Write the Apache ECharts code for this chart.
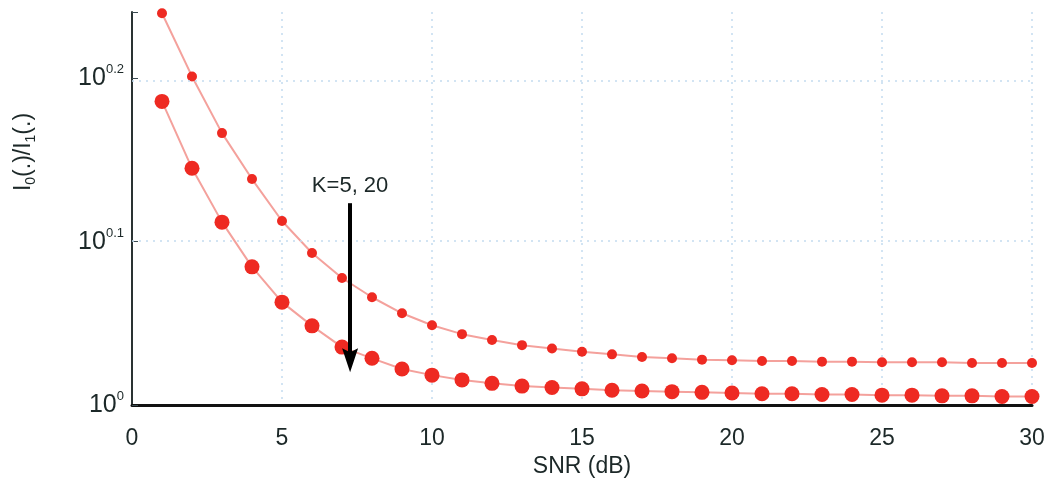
<!DOCTYPE html>
<html>
<head>
<meta charset="utf-8">
<script src="https://cdn.jsdelivr.net/npm/echarts@6/dist/echarts.min.js"></script>
<style>
  html, body { margin: 0; padding: 0; background: #ffffff; }
  #chart { width: 1057px; height: 494px; }
</style>
</head>
<body>
<div id="chart"></div>
<script>
// SNR points (dB)
const snr = [1, 2, 3, 4, 5, 6, 7, 8, 9, 10, 11, 12, 13, 14, 15,
             16, 17, 18, 19, 20, 21, 22, 23, 24, 25, 26, 27, 28, 29, 30];

// I0(.)/I1(.) for K = 5 (small markers)
const ratioK5 = [1.737, 1.589, 1.467, 1.375, 1.296, 1.239, 1.196, 1.164, 1.138, 1.119,
                 1.105, 1.096, 1.088, 1.083, 1.078, 1.074, 1.070, 1.068, 1.066, 1.065,
                 1.064, 1.064, 1.063, 1.063, 1.062, 1.062, 1.062, 1.061, 1.061, 1.061];

// I0(.)/I1(.) for K = 20 (large markers)
const ratioK20 = [1.534, 1.396, 1.294, 1.215, 1.156, 1.118, 1.085, 1.068, 1.052, 1.043,
                  1.036, 1.031, 1.027, 1.025, 1.023, 1.021, 1.020, 1.019, 1.018, 1.017,
                  1.016, 1.016, 1.015, 1.015, 1.014, 1.014, 1.013, 1.013, 1.012, 1.012];

// y tick labels: exponents of 10
const yTickExponents = ['0', '0.1', '0.2'];
// levels of the dotted horizontal grid lines
const yGridLevels = [1.2589, 1.5849];
// y axis range
const yMin = 1;
const yMax = 1.74;

// annotation arrow (x in dB, y from/to in ratio units; arrowhead centred on the end)
const arrowX = 7.27;
const arrowFrom = 1.329;
const arrowTo = 1.065;
const arrowText = 'K=5, 20';

const FONT = '"Liberation Sans", Arial, Helvetica, sans-serif';
const TEXT_COLOR = '#1c2828';
const GRID_COLOR = '#c4dcef';
const MARK_COLOR = '#ee2a22';
const LINE_COLOR = '#f4a19c';

const chart = echarts.init(document.getElementById('chart'), null, { renderer: 'canvas' });

function yLabel(v) {
  const e = Math.log10(v);
  const k = Math.round(e * 10);
  if (Math.abs(e - k / 10) > 1e-4) return '';
  const exp = yTickExponents[k];
  return exp === undefined ? '' : '{b|10}{s|' + exp + '}';
}

const option = {
  backgroundColor: '#ffffff',
  animation: false,
  grid: { left: 132, right: 25, top: 12, bottom: 89 },
  xAxis: {
    type: 'value',
    min: 0, max: 30, interval: 5,
    name: 'SNR (dB)',
    nameLocation: 'middle',
    nameGap: 50,
    nameTextStyle: { fontFamily: FONT, fontSize: 23, color: TEXT_COLOR },
    axisLine: { show: true, onZero: false, lineStyle: { color: '#111', width: 3 } },
    axisTick: { show: false },
    axisLabel: { fontFamily: FONT, fontSize: 23, color: TEXT_COLOR, margin: 22 },
    splitLine: { show: true, lineStyle: { color: GRID_COLOR, type: [2, 5], width: 1.5 } }
  },
  yAxis: {
    type: 'log',
    logBase: 10,
    min: yMin, max: yMax,
    interval: 0.1,
    axisLine: { show: true, lineStyle: { color: '#2a3333', width: 2 } },
    axisTick: { show: true, inside: true, length: 6, lineStyle: { color: '#3a4a50', width: 1 } },
    axisLabel: {
      margin: 8,
      formatter: yLabel,
      rich: {
        b: { fontFamily: FONT, fontSize: 25, lineHeight: 30, color: TEXT_COLOR },
        s: { fontFamily: FONT, fontSize: 13, lineHeight: 12, verticalAlign: 'top', color: TEXT_COLOR }
      }
    },
    splitLine: { show: false }
  },
  graphic: [{
    type: 'text',
    x: 24, y: 152,
    rotation: Math.PI / 2,
    style: {
      text: '{m|I}{s|0}{m|(.)/I}{s|1}{m|(.)}',
      align: 'center',
      verticalAlign: 'middle',
      rich: {
        m: { fontFamily: FONT, fontSize: 23, lineHeight: 28, fill: TEXT_COLOR },
        s: { fontFamily: FONT, fontSize: 14, lineHeight: 14, verticalAlign: 'bottom', fill: TEXT_COLOR }
      }
    }
  }],
  series: [
    {
      name: 'K=5',
      type: 'line',
      data: snr.map((x, i) => [x, ratioK5[i]]),
      symbol: 'circle',
      symbolSize: 10,
      itemStyle: { color: MARK_COLOR },
      lineStyle: { color: LINE_COLOR, width: 2 },
      z: 3,
      markLine: {
        silent: true,
        symbol: 'none',
        label: { show: false },
        lineStyle: { color: GRID_COLOR, type: [2, 5], width: 1.5 },
        data: yGridLevels.map(v => ({ yAxis: v }))
      }
    },
    {
      name: 'K=20',
      type: 'line',
      data: snr.map((x, i) => [x, ratioK20[i]]),
      symbol: 'circle',
      symbolSize: 15,
      itemStyle: { color: MARK_COLOR },
      lineStyle: { color: LINE_COLOR, width: 2 },
      z: 4,
      markLine: {
        silent: true,
        z: 10,
        symbol: ['none', 'path://M5,0 L10,24 L5,20 L0,24 Z'],
        symbolSize: [16, 24],
        lineStyle: { color: '#000000', width: 4, type: 'solid' },
        label: {
          show: true,
          position: 'start',
          formatter: arrowText,
          fontFamily: FONT,
          fontSize: 22,
          color: TEXT_COLOR,
          backgroundColor: '#ffffff',
          padding: [2, 3],
          distance: 4
        },
        data: [[{ coord: [arrowX, arrowFrom] }, { coord: [arrowX, arrowTo] }]]
      }
    }
  ]
};

chart.setOption(option);
</script>
</body>
</html>
